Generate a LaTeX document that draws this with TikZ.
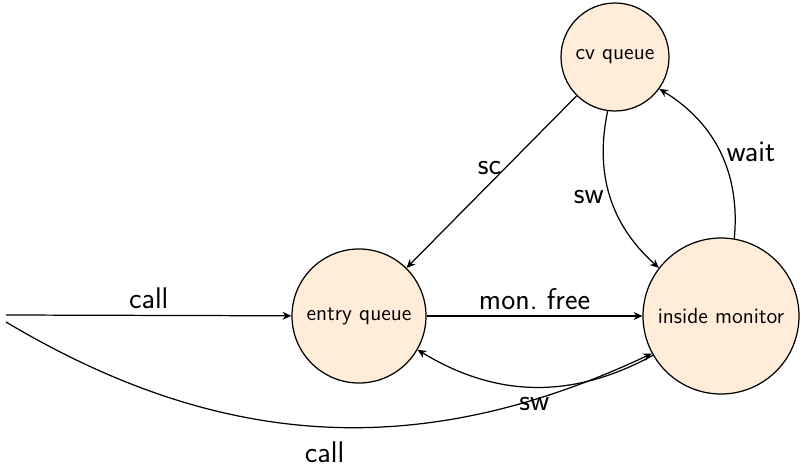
\documentclass[tikz,border=0pt]{standalone}
\usepackage{tikz}
\usetikzlibrary{arrows.meta}

\begin{document}
\begin{tikzpicture}[font=\sffamily, line width=0.7pt,
  >={Stealth[length=5pt,width=4.5pt]}]
\tikzstyle{state}=[circle, draw=black, fill=orange!15, inner sep=0pt, font=\sffamily\fontsize{12.5}{15}\selectfont]
\tikzstyle{lbl}=[font=\sffamily\fontsize{17}{20}\selectfont]
\useasboundingbox (0,0) rectangle (16.1,9.4);
% states
\node[state, minimum size=2.16cm] (cv) at (12.30,8.26) {cv queue};
\node[state, minimum size=2.68cm] (entry) at (7.18,3.08) {entry queue};
\node[state, minimum size=3.12cm] (mon) at (14.42,3.08) {inside monitor};
\coordinate (callA) at (0.12,3.10);
\coordinate (callB) at (0.12,2.96);
% transitions
\draw[->] (callA) -- node[lbl, above] {call} (entry);
\draw[->] (callB) to[bend right=28] node[lbl, below=5pt] {call} (mon);
\draw[->] (entry) -- node[lbl, above] {mon.\ free} (mon);
\draw[->] (mon) to[bend left=30] node[lbl, below=2pt] {sw} (entry);
\draw[->] (cv) -- node[lbl, pos=0.42, left, inner sep=2pt] {sc} (entry);
\draw[->] (cv) to[bend right=30] node[lbl, left] {sw} (mon);
\draw[->] (mon) to[bend right=32] node[lbl, right] {wait} (cv);
\end{tikzpicture}
\end{document}
